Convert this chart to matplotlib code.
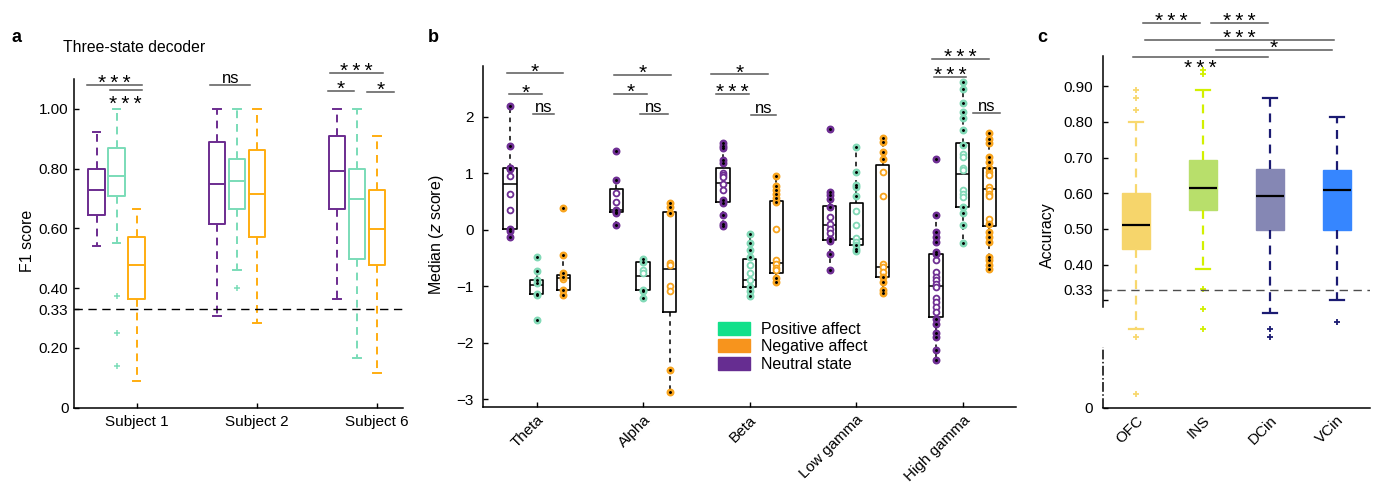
import numpy as np
import matplotlib
matplotlib.use("Agg")
from matplotlib import pyplot as plt
from matplotlib.patches import Patch

plt.rcParams['font.family'] = ['Liberation Sans', 'DejaVu Sans']
plt.rcParams['font.size'] = 11
plt.rcParams['axes.linewidth'] = 1.1
plt.rcParams['xtick.direction'] = 'in'
plt.rcParams['ytick.direction'] = 'in'

# ---------------- panel a : F1 scores of the three-state decoder
subjects = ['Subject 1', 'Subject 2', 'Subject 6']
# rows = subjects, cols = low whisker, q1, median, q3, high whisker
f1_neutral = [[0.540, 0.645, 0.727, 0.800, 0.922],
              [0.308, 0.615, 0.749, 0.888, 1.000],
              [0.364, 0.666, 0.791, 0.908, 1.000]]
f1_positive = [[0.552, 0.710, 0.774, 0.869, 1.000],
               [0.461, 0.665, 0.759, 0.833, 1.000],
               [0.167, 0.499, 0.700, 0.800, 1.000]]
f1_negative = [[0.090, 0.364, 0.476, 0.571, 0.666],
               [0.285, 0.571, 0.714, 0.861, 1.000],
               [0.117, 0.476, 0.599, 0.727, 0.908]]
f1_positive_out = [[0.375, 0.249, 0.141], [0.400], []]
f1_ticks = [0, 0.20, 0.33, 0.40, 0.60, 0.80, 1.00]

# ---------------- panel b : median z score per band
bands = ['Theta', 'Alpha', 'Beta', 'Low gamma', 'High gamma']
z_neutral_box = [[-0.13, 0.01, 0.81, 1.09, 2.19],
                 [0.08, 0.32, 0.35, 0.73, 0.89],
                 [0.06, 0.49, 0.83, 1.09, 1.53],
                 [-0.71, -0.18, 0.08, 0.43, 0.67],
                 [-2.31, -1.54, -0.99, -0.43, 0.26]]
z_positive_box = [[-1.16, -1.14, -0.97, -0.89, -0.74],
                  [-1.22, -1.07, -0.81, -0.56, -0.51],
                  [-1.17, -1.01, -0.89, -0.52, -0.08],
                  [-0.37, -0.27, -0.17, 0.47, 1.46],
                  [-0.24, 0.41, 0.99, 1.53, 2.62]]
z_negative_box = [[-1.15, -1.06, -0.85, -0.80, -0.45],
                  [-2.87, -1.45, -0.70, 0.31, 0.47],
                  [-0.92, -0.77, -0.58, 0.51, 0.95],
                  [-1.12, -0.83, -0.65, 1.15, 1.62],
                  [-0.70, 0.07, 0.73, 1.10, 1.72]]
z_neutral = [[2.19, 1.49, 1.10, 1.09, 1.07, 0.95, 0.64, 0.36, 0.02, -0.02, -0.13],
             [1.40, 0.89, 0.66, 0.50, 0.36, 0.32, 0.29, 0.08],
             [1.53, 1.48, 1.44, 1.23, 1.18, 1.00, 0.97, 0.94, 0.82, 0.71, 0.53,
              0.48, 0.26, 0.11, 0.06],
             [1.78, 0.67, 0.61, 0.54, 0.41, 0.23, 0.11, 0.02, -0.06, -0.16, -0.20,
              -0.43, -0.71],
             [1.25, 0.26, -0.04, -0.12, -0.21, -0.40, -0.43, -0.54, -0.74, -0.83,
              -0.89, -0.96, -1.01, -1.20, -1.27, -1.36, -1.45, -1.57, -1.66, -1.83,
              -1.89, -2.12, -2.31]]
z_positive = [[-0.48, -0.73, -0.89, -0.94, -1.13, -1.16, -1.60],
              [-0.52, -0.57, -0.71, -0.77, -1.06, -1.08, -1.21],
              [-0.08, -0.24, -0.36, -0.48, -0.62, -0.77, -0.89, -1.01, -1.09, -1.17],
              [1.46, 1.02, 0.79, 0.75, 0.60, 0.34, 0.09, -0.15, -0.21, -0.27, -0.33,
               -0.37],
              [2.62, 2.50, 2.24, 2.09, 1.98, 1.77, 1.50, 1.35, 1.29, 1.09, 1.06, 0.70,
               0.64, 0.58, 0.41, 0.29, 0.08, -0.24]]
z_negative = [[0.39, -0.45, -0.77, -0.83, -0.87, -1.07, -1.15],
              [0.47, 0.40, 0.29, -0.58, -0.63, -0.99, -1.09, -2.48, -2.87],
              [0.95, 0.78, 0.70, 0.64, 0.57, 0.50, 0.02, -0.54, -0.61, -0.67, -0.71,
               -0.86, -0.92],
              [1.62, 1.56, 1.38, 1.25, 1.03, 0.60, -0.60, -0.66, -0.74, -0.83, -0.92,
               -1.07, -1.12],
              [1.72, 1.61, 1.53, 1.29, 1.20, 1.09, 1.03, 0.97, 0.76, 0.70, 0.64, 0.60,
               0.20, 0.11, -0.04, -0.12, -0.21, -0.48, -0.54, -0.62, -0.70]]

# ---------------- panel c : decoding accuracy per region
regions = ['OFC', 'INS', 'DCin', 'VCin']
acc_box = [[0.221, 0.444, 0.512, 0.600, 0.800],
           [0.389, 0.554, 0.614, 0.692, 0.888],
           [0.266, 0.497, 0.593, 0.667, 0.867],
           [0.300, 0.498, 0.609, 0.664, 0.812]]
acc_out = [[0.833, 0.867, 0.889, 0.197, 0.039],
           [0.933, 0.945, 0.333, 0.276, 0.221],
           [0.221, 0.198],
           [0.240]]
acc_ticks = [0, 0.30, 0.33, 0.40, 0.50, 0.60, 0.70, 0.80, 0.90]
acc_ticklabels = ['0', '', '0.33', '0.40', '0.50', '0.60', '0.70', '0.80', '0.90']


def to_stats(rows, fliers=None):
    out = []
    for i, r in enumerate(rows):
        out.append(dict(whislo=r[0], q1=r[1], med=r[2], q3=r[3], whishi=r[4],
                        fliers=fliers[i] if fliers else []))
    return out


def sig(ax, x0, x1, y, label, off=None, color='0.35'):
    # significance bar with its label
    ax.plot([x0, x1], [y, y], color=color, lw=1.1, clip_on=False)
    fs = 12 if label == 'ns' else 15
    if off is None:
        off = 1.5 if label == 'ns' else -3
    text = label if label == 'ns' else '\u2009'.join(label)
    ax.annotate(text, xy=((x0 + x1) / 2, y), xytext=(0, off),
                textcoords='offset points', ha='center', va='baseline',
                fontsize=fs, annotation_clip=False)


def style(ax):
    for s in ['top', 'right']:
        ax.spines[s].set_visible(False)
    ax.tick_params(length=3.5, width=1, labelsize=11)


W, H = 1373, 486
fig = plt.figure(figsize=(W / 100, H / 100), dpi=100)

# ======================= panel a
ax = fig.add_axes([74 / W, (H - 407.7) / H, 329 / W, 328.7 / H])
style(ax)
centers = np.array([3, 9, 15])
a_cols = ['#6B2C8F', '#7ADCB8', '#FFAD10']
for rows, fl, off, c in [(f1_neutral, None, -2, a_cols[0]),
                         (f1_positive, f1_positive_out, -1, a_cols[1]),
                         (f1_negative, None, 0, a_cols[2])]:
    ax.bxp(to_stats(rows, fl), positions=centers + off, widths=0.82, capwidths=0.38,
           boxprops=dict(color=c, lw=1.4), medianprops=dict(color=c, lw=1.4),
           whiskerprops=dict(color=c, lw=1.4, ls=(0, (4, 3))),
           capprops=dict(color=c, lw=1.4),
           flierprops=dict(marker='+', markeredgecolor=c, markersize=5, mew=1.1),
           manage_ticks=False)
ax.axhline(0.33, color='k', lw=1, ls=(0, (6, 4)))
ax.set_xlim(-0.13, 16.3)
ax.set_ylim(0, 1.10)
ax.set_xticks(centers)
ax.set_xticklabels(subjects)
ax.set_yticks(f1_ticks)
ax.set_yticklabels(['0', '0.20', '0.33', '0.40', '0.60', '0.80', '1.00'])
ax.tick_params(axis='x', pad=5)
ax.tick_params(axis='y', pad=4)
sig(ax, 0.53, 3.25, 1.079, '***')
sig(ax, 1.66, 3.25, 1.062, '***', off=-14.5)
sig(ax, 6.67, 8.67, 1.081, 'ns')
sig(ax, 12.67, 15.3, 1.119, '***')
sig(ax, 12.55, 13.87, 1.061, '*')
sig(ax, 14.5, 15.83, 1.057, '*')
fig.text(27 / W, 1 - 241 / H, 'F1 score', rotation=90, ha='center', va='center',
         fontsize=11.5)
fig.text(63 / W, 1 - 47 / H, 'Three-state decoder', ha='left', va='center',
         fontsize=11.3)

# ======================= panel b
ax = fig.add_axes([483.3 / W, (H - 407.3) / H, 532.7 / W, 341.3 / H])
style(ax)
pos = np.arange(1, 6)
b_cols = ['#6E2E93', '#82D9B7', '#F8A41E']
for box, pts, off, c in [(z_neutral_box, z_neutral, -0.25, b_cols[0]),
                         (z_positive_box, z_positive, 0.0, b_cols[1]),
                         (z_negative_box, z_negative, 0.25, b_cols[2])]:
    ax.bxp(to_stats(box), positions=pos + off, widths=0.125, capwidths=0.0,
           showfliers=False,
           boxprops=dict(color='k', lw=1.2), medianprops=dict(color='k', lw=1.1),
           whiskerprops=dict(color='k', lw=1.1, ls=(0, (3, 3))),
           capprops=dict(lw=0), manage_ticks=False)
    for i, vals in enumerate(pts):
        vals = np.asarray(vals)
        q1, q3 = box[i][1], box[i][3]
        inside = (vals > q1 + 0.05) & (vals < q3 - 0.05)
        x = pos[i] + off
        ax.plot(np.full(inside.sum(), x), vals[inside], 'o', mfc='white', mec=c,
                mew=1.3, ms=4.2, zorder=4)
        ax.plot(np.full((~inside).sum(), x), vals[~inside], 'o', color=c, ms=4.7,
                zorder=4)
        ax.plot(np.full((~inside).sum(), x), vals[~inside], 'o', color='k', ms=1.1,
                zorder=5)
ax.set_xlim(0.5, 5.5)
ax.set_ylim(-3.14, 2.9)
ax.set_xticks(pos)
ax.set_xticklabels(bands, rotation=45, ha='right', rotation_mode='anchor')
ax.set_yticks([-3, -2, -1, 0, 1, 2])
ax.tick_params(axis='y', pad=7)
ax.tick_params(axis='x', pad=4)
# significance bars: band, x0 offset, x1 offset, y, label
b_sig = [(1, -0.28, 0.25, 2.77, '*'), (1, -0.26, 0.05, 2.40, '*'),
         (1, -0.03, 0.16, 2.05, 'ns'),
         (2, -0.27, 0.26, 2.74, '*'), (2, -0.27, 0.04, 2.41, '*'),
         (2, -0.03, 0.23, 2.05, 'ns'),
         (3, -0.36, 0.17, 2.75, '*'), (3, -0.32, -0.01, 2.40, '***'),
         (3, 0.01, 0.25, 2.03, 'ns'),
         (5, -0.29, 0.25, 3.03, '***'), (5, -0.27, 0.03, 2.70, '***'),
         (5, 0.10, 0.35, 2.06, 'ns')]
for band, x0, x1, y, lab in b_sig:
    sig(ax, band + x0, band + x1, y, lab)
handles = [Patch(color='#12E08A'), Patch(color='#F7941D'), Patch(color='#662D91')]
ax.legend(handles, ['Positive affect', 'Negative affect', 'Neutral state'],
          loc='upper left', bbox_to_anchor=(0.4406, 0.250), frameon=False,
          fontsize=11.5, handlelength=2.0, handleheight=0.85, handletextpad=0.7,
          labelspacing=0.15, borderpad=0, borderaxespad=0)
fig.text(437 / W, 1 - 235 / H, 'Median ($\\it{z}$ score)', rotation=90, ha='center',
         va='center', fontsize=11.5)

# ======================= panel c
ax = fig.add_axes([1103 / W, (H - 407.7) / H, 267 / W, 351.7 / H])
style(ax)
face = ['#F6D56B', '#B8DF6B', '#8587B4', '#3686FF']
line = ['#F8D86E', '#D2F000', '#1B1B72', '#1B1B72']
for i in range(len(regions)):
    ax.bxp(to_stats([acc_box[i]], [acc_out[i]]), positions=[i + 1], widths=0.42,
           capwidths=0.21, patch_artist=True,
           boxprops=dict(facecolor=face[i], edgecolor=face[i], lw=1),
           medianprops=dict(color='k', lw=1.6),
           whiskerprops=dict(color=line[i], lw=1.6, ls=(0, (4, 3))),
           capprops=dict(color=line[i], lw=1.6),
           flierprops=dict(marker='+', markeredgecolor=line[i], markersize=4, mew=1.3),
           manage_ticks=False)
ax.axhline(0.33, color='0.3', lw=1, ls=(0, (6, 4)))
ax.set_xlim(0.5, 4.5)
ax.set_ylim(0, 0.984)
ax.spines['left'].set_bounds(0.283, 0.984)
ax.plot([0, 0], [0, 0.171], transform=ax.get_yaxis_transform(), color='k', lw=1.1,
        ls='-.', clip_on=False)
ax.set_xticks(np.arange(1, 5))
ax.set_xticklabels(regions, rotation=45, ha='right', rotation_mode='anchor')
ax.tick_params(axis='x', length=0, pad=4)
ax.set_yticks(acc_ticks)
ax.set_yticklabels(acc_ticklabels)
ax.tick_params(axis='y', pad=7)
sig(ax, 1.10, 1.95, 1.0755, '***')
sig(ax, 2.12, 2.97, 1.0755, '***')
sig(ax, 1.135, 3.955, 1.0297, '***')
sig(ax, 2.19, 3.93, 1.0008, '*')
sig(ax, 0.945, 2.97, 0.981, '***', off=-12)
fig.text(1047 / W, 1 - 235 / H, 'Accuracy', rotation=90, ha='center', va='center',
         fontsize=11.5)

# panel letters
for x, lab in [(12, 'a'), (428, 'b'), (1037, 'c')]:
    fig.text(x / W, 1 - 38 / H, lab, fontsize=13, fontweight='bold', ha='left',
             va='center')

fig.savefig('out.png', dpi=100)
